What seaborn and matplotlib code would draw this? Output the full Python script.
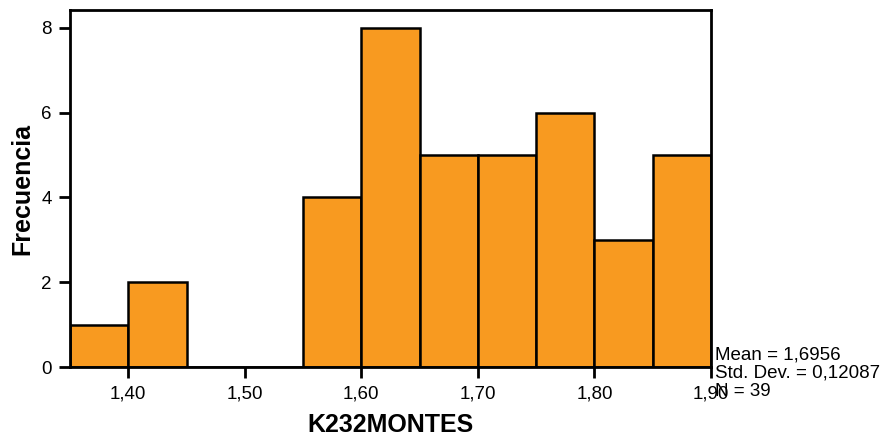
import matplotlib
matplotlib.use("Agg")
import matplotlib.pyplot as plt
import seaborn as sns
import numpy as np

bin_edges = [1.35, 1.40, 1.45, 1.50, 1.55, 1.60, 1.65, 1.70, 1.75, 1.80, 1.85, 1.90]
counts = [1, 2, 0, 0, 4, 8, 5, 5, 6, 3, 5]
xticks = [1.40, 1.50, 1.60, 1.70, 1.80, 1.90]
xtick_labels = ["1,40", "1,50", "1,60", "1,70", "1,80", "1,90"]
yticks = [0, 2, 4, 6, 8]
stats_lines = ["Mean = 1,6956", "Std. Dev. = 0,12087", "N = 39"]

sns.set_style("white")
plt.rcParams['font.family'] = ['Liberation Sans', 'DejaVu Sans']
plt.rcParams['text.color'] = 'black'
plt.rcParams['axes.labelcolor'] = 'black'

fig = plt.figure(figsize=(8.88, 4.36), dpi=100)
ax = fig.add_axes([70/888, 69/436, (711-70)/888, (367-10)/436])

centers = [(bin_edges[i] + bin_edges[i+1]) / 2 for i in range(len(counts))]
sns.histplot(x=centers, weights=counts, bins=bin_edges, ax=ax,
             color="#F89A20", alpha=1, edgecolor="black", linewidth=1.8)

ax.set_xlim(1.35, 1.90)
ax.set_ylim(0, 8.42)
ax.set_xticks(xticks)
ax.set_xticklabels(xtick_labels)
ax.set_yticks(yticks)
ax.tick_params(axis='both', direction='out', length=8, width=2, labelsize=13.5,
               colors='black', labelcolor='black', bottom=True, left=True, pad=5)
for s in ax.spines.values():
    s.set_linewidth(2)
    s.set_color("black")
    s.set_visible(True)

ax.set_xlabel("K232MONTES", fontsize=18, fontweight="bold", labelpad=8, color="black")
ax.set_ylabel("Frecuencia", fontsize=18, fontweight="bold", labelpad=5, color="black")

for i, line in enumerate(stats_lines):
    fig.text(715/888, 1 - (355 + 18*i)/436, line, fontsize=13.5, va="center", ha="left",
             color="black")

fig.savefig("out.png", dpi=100)
